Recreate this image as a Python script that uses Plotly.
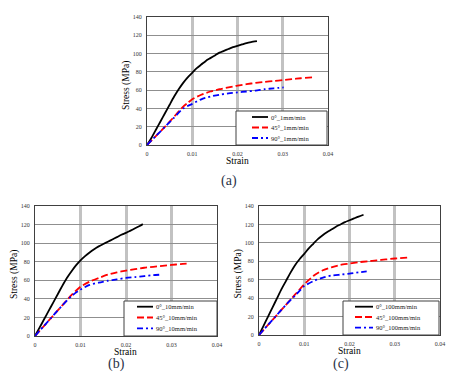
import plotly.graph_objects as go

# ---------------- data ----------------
# (a) 1 mm/min
a0_x = [0, 0.001, 0.002, 0.003, 0.004, 0.005, 0.006, 0.007, 0.008, 0.009, 0.010, 0.011, 0.012, 0.013, 0.014,
        0.015, 0.016, 0.017, 0.018, 0.019, 0.020, 0.021, 0.022, 0.023, 0.0243]
a0_y = [0, 8, 17, 26, 35, 44, 53, 61, 68, 74, 79, 84, 88, 92, 95, 98, 101, 103, 105, 107, 108.5, 110, 111.5, 112.5, 113.5]
a45_x = [0, 0.002, 0.004, 0.006, 0.008, 0.009, 0.010, 0.012, 0.014, 0.016, 0.018, 0.020, 0.022, 0.024, 0.026,
         0.028, 0.030, 0.032, 0.034, 0.0365]
a45_y = [0, 10, 20, 31, 42, 46, 50, 55, 58.5, 61, 63, 65, 66.5, 68, 69, 70, 71, 72, 73, 74]
a90_x = [0, 0.002, 0.004, 0.006, 0.008, 0.010, 0.012, 0.014, 0.016, 0.018, 0.020, 0.022, 0.024, 0.026, 0.028, 0.0302]
a90_y = [0, 10, 20, 30, 40, 45, 50, 53, 55, 56.5, 57.5, 58.5, 59.5, 61, 62, 63]

# (b) 10 mm/min
b0_x = [0, 0.001, 0.002, 0.003, 0.004, 0.005, 0.006, 0.007, 0.008, 0.009, 0.010, 0.011, 0.012, 0.013, 0.014,
        0.015, 0.016, 0.017, 0.018, 0.019, 0.020, 0.021, 0.022, 0.023, 0.0237]
b0_y = [0, 9, 18, 27, 36, 45, 54, 62.5, 69.5, 76, 81.5, 86, 90, 93.5, 96.5, 99, 101.5, 104, 106.5, 109, 111, 113.5,
        116, 118.5, 120.5]
b45_x = [0, 0.002, 0.004, 0.006, 0.008, 0.010, 0.012, 0.014, 0.016, 0.018, 0.020, 0.022, 0.024, 0.026, 0.028,
         0.030, 0.032, 0.0338]
b45_y = [0, 11, 22, 33, 44, 53, 58.5, 62.5, 66, 68.5, 70.5, 72, 73.5, 74.5, 75.5, 76.5, 77.5, 78]
b90_x = [0, 0.002, 0.004, 0.006, 0.008, 0.010, 0.012, 0.014, 0.016, 0.018, 0.020, 0.022, 0.024, 0.026, 0.0274]
b90_y = [0, 11, 22, 33, 43, 50, 55, 57.5, 59.5, 61, 62.5, 63.5, 64.5, 65.5, 66]

# (c) 100 mm/min
c0_x = [0, 0.001, 0.002, 0.003, 0.004, 0.005, 0.006, 0.007, 0.008, 0.009, 0.010, 0.011, 0.012, 0.013, 0.014,
        0.015, 0.016, 0.017, 0.018, 0.019, 0.020, 0.021, 0.022, 0.0231]
c0_y = [0, 10, 20, 30, 40, 50, 59, 68, 76, 82.5, 88, 94, 99, 104, 108, 111.5, 114.5, 117.5, 120, 122.5, 124.5,
        126.5, 128.5, 130.5]
c45_x = [0, 0.002, 0.004, 0.006, 0.008, 0.010, 0.012, 0.014, 0.016, 0.018, 0.020, 0.022, 0.024, 0.026, 0.028,
         0.030, 0.033]
c45_y = [0, 11, 22, 33, 44, 55, 64, 70, 73.5, 76, 77.5, 79, 80, 81, 82, 83, 84]
c90_x = [0, 0.002, 0.004, 0.006, 0.008, 0.010, 0.012, 0.014, 0.016, 0.018, 0.020, 0.022, 0.0238]
c90_y = [0, 11, 22, 33, 43, 53, 58.5, 62, 64.5, 65.5, 66.5, 68, 69]

names_a = ["0°_1mm/min", "45°_1mm/min", "90°_1mm/min"]
names_b = ["0°_10mm/min", "45°_10mm/min", "90°_10mm/min"]
names_c = ["0°_100mm/min", "45°_100mm/min", "90°_100mm/min"]
captions = ["(a)", "(b)", "(c)"]
x_ticks = [0, 0.01, 0.02, 0.03, 0.04]
x_tick_text = ["0", "0.01", "0.02", "0.03", "0.04"]
y_ticks = [0, 20, 40, 60, 80, 100, 120, 140]

# ---------------- styling ----------------
W, H = 461, 383
SERIF = "Liberation Serif, Times New Roman, serif"
styles = [dict(color="black", width=1.8, dash="solid"),
          dict(color="#ff0000", width=1.8, dash="7px,3px"),
          dict(color="#0000ff", width=1.8, dash="6px,3px,2px,3px")]

# plot-area pixel boxes (left, right, top, bottom)
boxes = [(147, 328, 17, 145), (35, 217, 206, 336), (259, 440, 206, 335)]
# legend boxes (left, right, top, bottom), sample-line x span, row centres
leg_boxes = [(236, 327, 111, 145), (124, 217, 301, 336), (343, 439, 301, 335)]
leg_sample = [(252, 268), (137, 153), (355, 373)]
leg_rows = [(117, 127.5, 138), (306.7, 317.5, 328.3), (306.7, 317, 327.7)]
caption_pos = [(229, 181), (116, 364), (341, 364)]

fig = go.Figure()
panels = [((a0_x, a0_y), (a45_x, a45_y), (a90_x, a90_y)),
          ((b0_x, b0_y), (b45_x, b45_y), (b90_x, b90_y)),
          ((c0_x, c0_y), (c45_x, c45_y), (c90_x, c90_y))]
names = [names_a, names_b, names_c]

for p, series in enumerate(panels):
    xa = "x" if p == 0 else f"x{p+1}"
    ya = "y" if p == 0 else f"y{p+1}"
    for s, (xs, ys) in enumerate(series):
        fig.add_trace(go.Scatter(x=xs, y=ys, mode="lines", name=names[p][s], line=styles[s],
                                 line_shape="spline", line_smoothing=0.6,
                                 xaxis=xa, yaxis=ya, showlegend=False))

layout = dict(width=W, height=H, margin=dict(l=0, r=0, t=0, b=0),
              paper_bgcolor="white", plot_bgcolor="white", font=dict(family=SERIF, color="black"))

annotations = []
shapes = []


def px(x):
    return x / W


def py(y):
    return 1 - y / H


for p, (l, r, t, b) in enumerate(boxes):
    sfx = "" if p == 0 else str(p + 1)
    layout["xaxis" + sfx] = dict(domain=[l / W, r / W], range=[0, 0.04], tickvals=x_ticks,
                                 ticktext=x_tick_text, anchor="y" + sfx, ticklabelstandoff=3,
                                 showgrid=True, gridcolor="#c2c2c2", gridwidth=3,
                                 showline=True, linecolor="#404040", linewidth=1, mirror=True,
                                 zeroline=False, ticks="", automargin=False,
                                 tickfont=dict(family=SERIF, size=6, color="#333333"))
    layout["yaxis" + sfx] = dict(domain=[1 - b / H, 1 - t / H], range=[0, 140], tickvals=y_ticks,
                                 anchor="x" + sfx, ticklabelstandoff=3,
                                 showgrid=True, gridcolor="#8f8f8f", gridwidth=1,
                                 showline=True, linecolor="#404040", linewidth=1, mirror=True,
                                 zeroline=False, ticks="", automargin=False,
                                 tickfont=dict(family=SERIF, size=6, color="#333333"))
    # axis titles
    annotations.append(dict(text="Strain", x=px((l + r) / 2), y=py(b + 16), xref="paper", yref="paper",
                            showarrow=False, font=dict(family=SERIF, size=9.5, color="black"),
                            xanchor="center", yanchor="middle"))
    annotations.append(dict(text="Stress (MPa)", x=px(l - 21), y=py((t + b) / 2 + 4), xref="paper",
                            yref="paper", showarrow=False, textangle=-90,
                            font=dict(family=SERIF, size=9.5, color="black"),
                            xanchor="center", yanchor="middle"))
    cx, cy = caption_pos[p]
    annotations.append(dict(text=captions[p], x=px(cx), y=py(cy), xref="paper", yref="paper",
                            showarrow=False, font=dict(family=SERIF, size=14, color="#2b3348"),
                            xanchor="center", yanchor="middle"))
    # legend box
    ll, lr, lt, lb = leg_boxes[p]
    shapes.append(dict(type="rect", xref="paper", yref="paper", x0=px(ll), x1=px(lr), y0=py(lb), y1=py(lt),
                       fillcolor="white", line=dict(color="#404040", width=1), layer="above"))
    sx0, sx1 = leg_sample[p]
    for s in range(3):
        ry = leg_rows[p][s]
        shapes.append(dict(type="line", xref="paper", yref="paper", x0=px(sx0), x1=px(sx1),
                           y0=py(ry), y1=py(ry), line=styles[s], layer="above"))
        annotations.append(dict(text=names[p][s], x=px(sx1 + 1), y=py(ry), xref="paper", yref="paper",
                                showarrow=False, font=dict(family=SERIF, size=6.5, color="#222222"),
                                xanchor="left", yanchor="middle"))

layout["annotations"] = annotations
layout["shapes"] = shapes
fig.update_layout(**layout)
fig.write_html("out.html", config={"displayModeBar": False},
               post_script="document.body.style.margin='0';")
